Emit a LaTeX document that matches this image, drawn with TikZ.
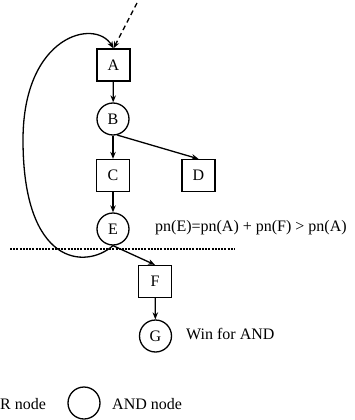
\documentclass[tikz,border=0pt]{standalone}
\usepackage{fontspec}
\setmainfont{Liberation Serif}
\usetikzlibrary{arrows.meta}
\begin{document}
\begin{tikzpicture}[x=1pt,y=-1pt,
  font=\fontsize{16}{19}\selectfont,
  ornode/.style={draw,line width=1.3pt,rectangle,minimum width=33pt,minimum height=32pt,inner sep=0pt},
  andnode/.style={draw,line width=1.3pt,circle,minimum size=32pt,inner sep=0pt},
  lbl/.style={inner sep=0pt,anchor=west},
  arr/.style={line width=1.3pt,-{Stealth[length=7pt,width=5.5pt]}}]
\useasboundingbox (0,0) rectangle (355,420);
\node[ornode] (A) at (113.5,65) {A};
\node[andnode] (B) at (113,119) {B};
\node[ornode] (C) at (113,175.5) {C};
\node[ornode] (D) at (198.5,175.5) {D};
\node[andnode] (E) at (113,229) {E};
\node[ornode] (F) at (155,281.5) {F};
\node[andnode] (G) at (155.5,336) {G};
\node[lbl] (pn) at (155,228) {pn(E)=pn(A) + pn(F) > pn(A)};
\node[lbl] (win) at (186,334) {Win for AND};
\node[andnode] (leg) at (84,403) {};
\node[lbl] (andl) at (112,404) {AND node};
\node[lbl] (orl) at (0,404) {R node};
\coordinate (top) at (137,3);
\coordinate (dl) at (10,249);
\coordinate (dr) at (235,249);
\draw[line width=2.5pt,dash pattern=on 2pt off 1.2pt] (dl) -- (dr);
\draw[arr,dash pattern=on 5pt off 3.5pt] (top) -- (A.north);
\draw[arr] (A) -- (B);
\draw[arr] (B) -- (C);
\draw[arr] (B.-75) -- (D.north);
\draw[arr] (C) -- (E);
\draw[arr] (E.south) -- (F.north);
\draw[arr] (F) -- (G);
\draw[arr] (E.south) .. controls (85,270) and (23,265) .. (23,140)
  .. controls (23,35) and (95,18) .. (A.north);
\end{tikzpicture}
\end{document}
